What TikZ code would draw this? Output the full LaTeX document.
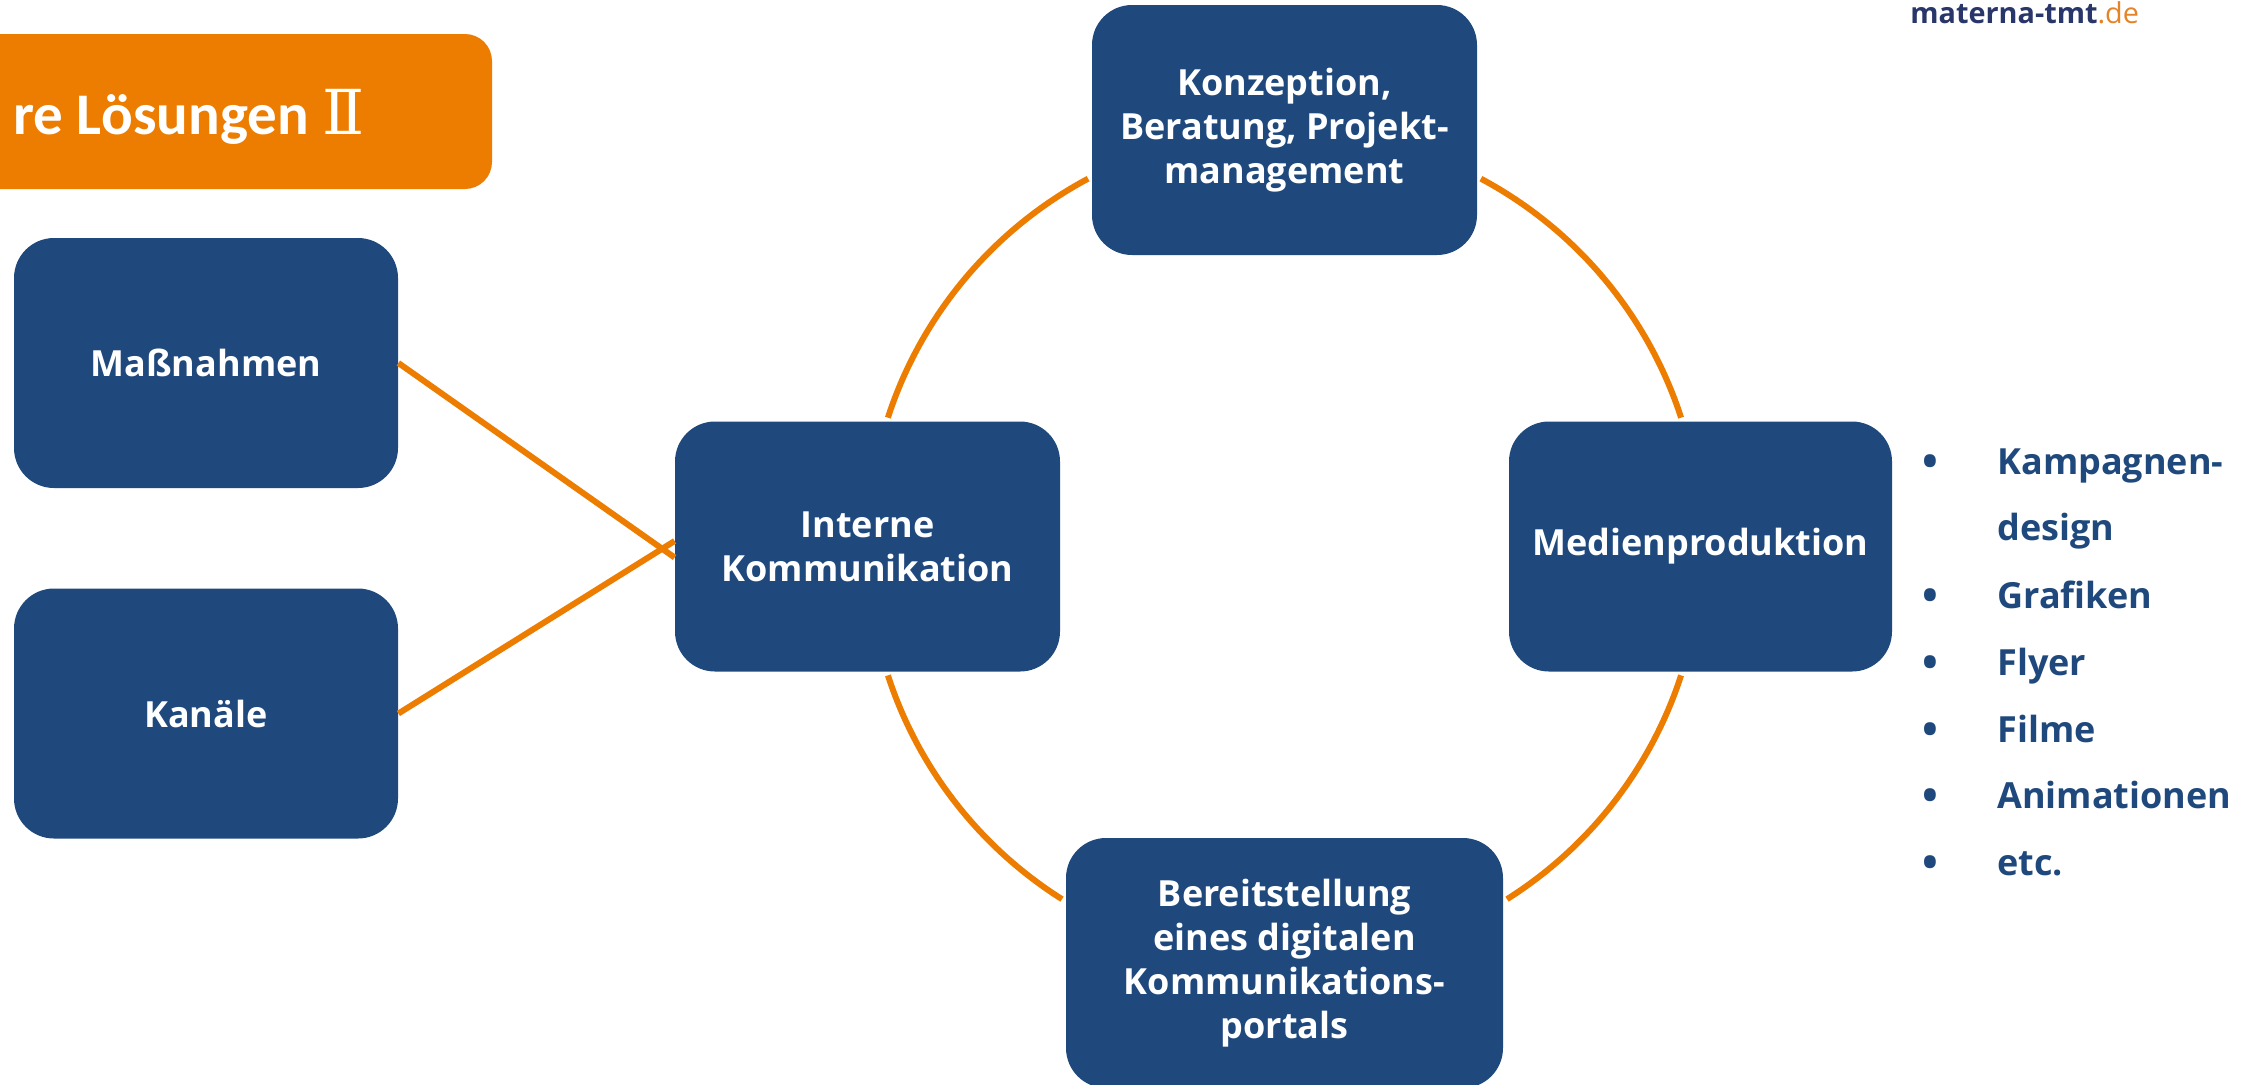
\documentclass[tikz,border=0pt]{standalone}
\usepackage{fontspec}
\setmainfont{Open Sans}
\newfontfamily\titlefont{Carlito}
\newfontfamily\numfont{DejaVu Serif}
\definecolor{boxblue}{RGB}{31,73,125}
\definecolor{ringorange}{RGB}{237,125,0}
\definecolor{logoblue}{RGB}{40,54,106}
\definecolor{logoorange}{RGB}{229,131,40}
\tikzset{
  topic/.style={fill=boxblue, rounded corners=20pt, text=white, align=center,
    font=\bfseries\fontsize{18}{22}\selectfont, inner sep=0pt,
    minimum width=192.5pt, minimum height=125pt},
  link/.style={draw=ringorange, line width=3pt},
  item/.style={text=boxblue, font=\bfseries\fontsize{18}{22}\selectfont, anchor=base west, inner sep=0pt},
  dot/.style={text=boxblue, font=\bfseries\fontsize{21}{22}\selectfont, anchor=base, inner sep=0pt},
}
\begin{document}
\begin{tikzpicture}[x=0.5pt,y=0.5pt,yscale=-1,xscale=1]
    \useasboundingbox (0,0) rectangle (2251,1084);

    % title bar, cut by the page edge
    \fill [ringorange, rounded corners=13.5pt] (-80,34) rectangle (492,189);
    \node [anchor=base west, inner sep=0pt, text=white, font=\titlefont\bfseries\fontsize{29.5}{36}\selectfont] (title) at (13,134) {re Lösungen {\numfont\mdseries\fontsize{31}{36}\selectfont Ⅱ}};

    \node [anchor=base west, inner sep=0pt, font=\fontsize{14.4}{18}\selectfont] (logo) at (1910,23) {\textcolor{logoblue}{\bfseries materna-tmt}\textcolor{logoorange}{.de}};

    % boxes
    \coordinate (hub) at (1284.5,546.5);
    \node [topic] (konzept) at (1284.5,130) {Konzeption,\\Beratung, Projekt-\\management};
    \node [topic, minimum width=191.5pt] (medien) at (1700.5,546.5) {Medienproduktion};
    \node [topic] (intern) at (867.5,546.5) {Interne\\Kommunikation};
    \node [topic, minimum width=218.5pt] (bereit) at (1284.5,963) {Bereitstellung\\eines digitalen\\Kommunikations-\\portals};
    \node [topic, minimum width=192pt] (massn) at (206,363) {Maßnahmen};
    \node [topic, minimum width=192pt] (kanaele) at (206,713.5) {Kanäle};

    % ring between the four topics
    \draw [link] ([shift={(-118.1:417)}]hub) arc [start angle=-118.1, end angle=-162, radius=417];
    \draw [link] ([shift={(-61.9:417)}]hub) arc [start angle=-61.9, end angle=-18, radius=417];
    \draw [link] ([shift={(-198:417)}]hub) arc [start angle=-198, end angle=-237.75, radius=417];
    \draw [link] ([shift={(18:417)}]hub) arc [start angle=18, end angle=57.75, radius=417];

    \draw [link] (massn.east) -- ([yshift=5.5pt]intern.west);
    \draw [link] (kanaele.east) -- ([yshift=-2.75pt]intern.west);

    % list
    \node [dot] at (1930,476) {•};
    \node [dot] at (1930,610) {•};
    \node [dot] at (1930,677) {•};
    \node [dot] at (1930,744) {•};
    \node [dot] at (1930,810) {•};
    \node [dot] at (1930,877) {•};
    \node [item] (kampagne) at (1997,474) {Kampagnen-};
    \node [item] (design) at (1997,540) {design};
    \node [item] (grafik) at (1997,608) {Grafiken};
    \node [item] (flyer) at (1997,675) {Flyer};
    \node [item] (filme) at (1997,742) {Filme};
    \node [item] (anim) at (1997,808) {Animationen};
    \node [item] (etc) at (1997,875) {etc.};
\end{tikzpicture}
\end{document}
